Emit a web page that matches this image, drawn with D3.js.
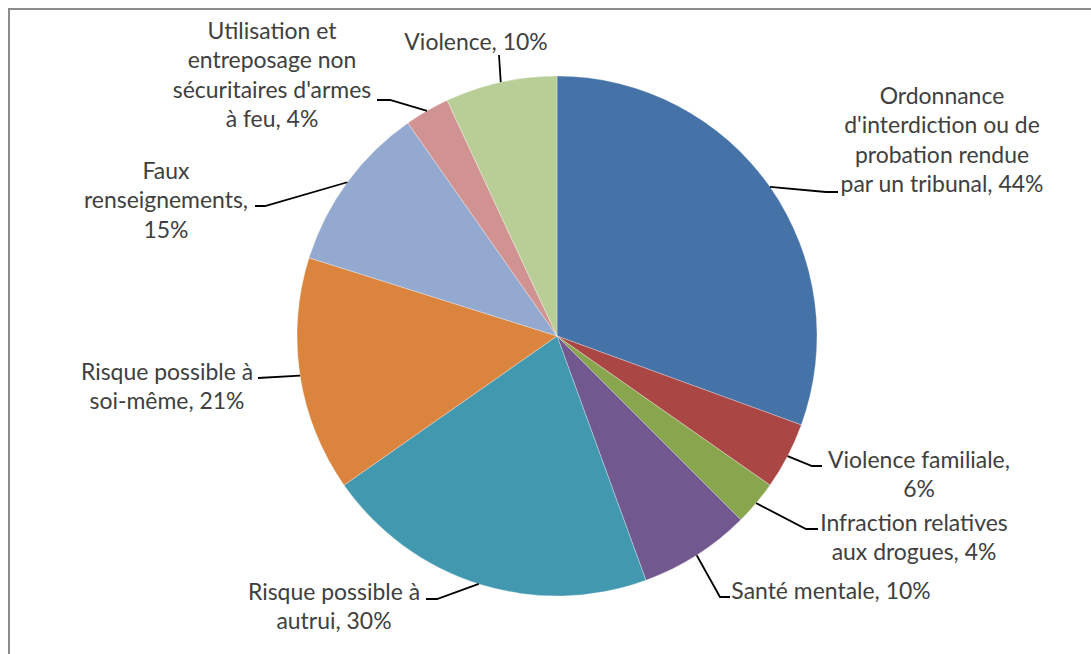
<!DOCTYPE html>
<html>
<head>
<meta charset="utf-8">
<script src="https://cdn.jsdelivr.net/npm/d3@7"></script>
<style>
  html, body { margin: 0; padding: 0; background: #fff; }
  svg { display: block; }
</style>
</head>
<body>
<svg id="chart" width="1091" height="654"></svg>
<script>
// ---- Data ----
const categories = [
  "Ordonnance d'interdiction ou de probation rendue par un tribunal",
  "Violence familiale",
  "Infraction relatives aux drogues",
  "Santé mentale",
  "Risque possible à autrui",
  "Risque possible à soi-même",
  "Faux renseignements",
  "Utilisation et entreposage non sécuritaires d'armes à feu",
  "Violence"
];
const values = [44, 6, 4, 10, 30, 21, 15, 4, 10];
const labelLines = [
  ["Ordonnance", "d'interdiction ou de", "probation rendue", "par un tribunal, 44%"],
  ["Violence familiale,", "6%"],
  ["Infraction relatives", "aux drogues, 4%"],
  ["Santé mentale, 10%"],
  ["Risque possible à", "autrui, 30%"],
  ["Risque possible à", "soi-même, 21%"],
  ["Faux", "renseignements,", "15%"],
  ["Utilisation et", "entreposage non", "sécuritaires d'armes", "à feu, 4%"],
  ["Violence, 10%"]
];

// ---- Layout / style ----
const colors = ["#4572A7", "#AA4643", "#89A54E", "#71588F", "#4198AF", "#DB843D", "#93A9CF", "#D19392", "#B9CD96"];
const cx = 557, cy = 336, radius = 260;
const lineGap = 29.3;
// label text centre (x, y of first line) and leader elbow points
const labelLayout = [
  { x: 942, y: 96,  pts: [[826, 192], [838, 192]] },
  { x: 919, y: 460, pts: [[812, 466], [822, 466]] },
  { x: 914, y: 523, pts: [[806, 529], [818, 529]] },
  { x: 831, y: 591, pts: [[720, 597], [730, 597]] },
  { x: 334, y: 592, pts: [[437, 599], [426, 599]] },
  { x: 167, y: 372, pts: [[258, 378]] },
  { x: 166, y: 171, pts: [[265, 206], [255, 206]] },
  { x: 272, y: 31,  pts: [[390, 100], [377, 100]] },
  { x: 476, y: 42,  pts: [[499, 55]] }
];

const svg = d3.select("#chart");

// frame (top and left edges visible)
svg.append("path")
  .attr("d", "M9,654 L9,9 L1091,9")
  .attr("fill", "none")
  .attr("stroke", "#8c8c8c")
  .attr("stroke-width", 2);

const pie = d3.pie().sort(null).value(d => d)(values);
const arc = d3.arc().innerRadius(0).outerRadius(radius);

const g = svg.append("g").attr("transform", `translate(${cx},${cy})`);
g.selectAll("path.slice")
  .data(pie)
  .join("path")
  .attr("class", "slice")
  .attr("d", arc)
  .attr("fill", (d, i) => colors[i])
  .attr("stroke", "#ffffff")
  .attr("stroke-width", 0.6)
  .attr("stroke-opacity", 0.5);

// font size fitted to measured reference width
const fontFamily = "Lato, 'Open Sans', sans-serif";
const probe = svg.append("text").attr("font-family", fontFamily).attr("font-size", 100).text("Violence familiale,");
const w100 = probe.node().getComputedTextLength();
probe.remove();
const fontSize = 100 * 182 / w100;

// leader lines
const leaders = svg.append("g");
pie.forEach((d, i) => {
  const a = (d.startAngle + d.endAngle) / 2;
  const start = [cx + radius * Math.sin(a), cy - radius * Math.cos(a)];
  const pts = [start].concat(labelLayout[i].pts);
  leaders.append("path")
    .attr("d", d3.line()(pts))
    .attr("fill", "none")
    .attr("stroke", "#000")
    .attr("stroke-width", 1.8);
});

// labels
const labels = svg.append("g")
  .attr("font-family", fontFamily)
  .attr("font-size", fontSize)
  .attr("fill", "#404040")
  .attr("text-anchor", "middle");
labelLines.forEach((lines, i) => {
  const L = labelLayout[i];
  const t = labels.append("text");
  lines.forEach((s, k) => {
    t.append("tspan")
      .attr("x", L.x)
      .attr("y", L.y + k * lineGap)
      .attr("dy", "0.35em")
      .text(s);
  });
});
</script>
</body>
</html>
